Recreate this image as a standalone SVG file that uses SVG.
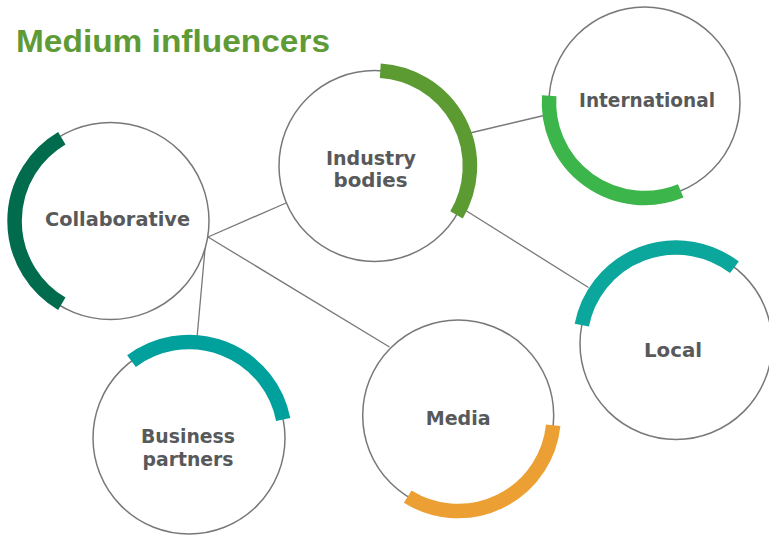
<svg xmlns="http://www.w3.org/2000/svg" width="769" height="535" viewBox="0 0 769 535">
<style>
.ring{fill:#ffffff;stroke:#77787b;stroke-width:1.5}
.arc{fill:none;stroke-width:14.5;stroke-linecap:butt}
.lbl{font-family:"DejaVu Sans",Verdana,sans-serif;font-weight:bold;font-size:19px;fill:#58595b;text-anchor:middle}
.title{font-family:"Liberation Sans",Arial,sans-serif;font-weight:bold;font-size:32px;fill:#5e9b37}
.con line{stroke:#77787b;stroke-width:1.3}
</style>
<rect width="769" height="535" fill="#ffffff"/>
<text class="title" x="16" y="52.3" textLength="314" lengthAdjust="spacingAndGlyphs">Medium influencers</text>
<g id="connectors" class="con">
<line x1="208" y1="237" x2="286" y2="203"/>
<line x1="208" y1="237" x2="389.5" y2="347"/>
<line x1="206" y1="238" x2="197" y2="338"/>
<line x1="470" y1="133" x2="546" y2="115"/>
<line x1="465" y1="210" x2="588.5" y2="287.5"/>
</g>
<g id="collaborative">
<circle class="ring" cx="110.5" cy="221" r="98.5"/>
<path class="arc" stroke="#006b4d" d="M 61.8 303.7 A 96 96 0 0 1 61.8 138.3"/>
<text class="lbl" x="117.5" y="226" textLength="145" lengthAdjust="spacingAndGlyphs">Collaborative</text>
</g>
<g id="industry-bodies">
<circle class="ring" cx="374.5" cy="166" r="95.5"/>
<path class="arc" stroke="#5c9a32" d="M 380.3 70.7 A 95.5 95.5 0 0 1 456.5 214.9"/>
<text class="lbl" x="371" y="165" textLength="90" lengthAdjust="spacingAndGlyphs">Industry</text>
<text class="lbl" x="370.5" y="187" textLength="74" lengthAdjust="spacingAndGlyphs">bodies</text>
</g>
<g id="international">
<circle class="ring" cx="644.5" cy="102.5" r="95.5"/>
<path class="arc" stroke="#3cb54a" d="M 680.7 190.9 A 95.5 95.5 0 0 1 549.2 95.8"/>
<text class="lbl" x="647" y="107.3" textLength="136" lengthAdjust="spacingAndGlyphs">International</text>
</g>
<g id="local">
<circle class="ring" cx="676" cy="343.5" r="96"/>
<path class="arc" stroke="#0ba79c" d="M 581.8 325.2 A 96 96 0 0 1 734.4 267.3"/>
<text class="lbl" x="673" y="357.3" textLength="58" lengthAdjust="spacingAndGlyphs">Local</text>
</g>
<g id="media">
<circle class="ring" cx="458.2" cy="415.5" r="95.5"/>
<path class="arc" stroke="#eca033" d="M 553.2 425.3 A 95.5 95.5 0 0 1 407.7 496.6"/>
<text class="lbl" x="458.2" y="425" textLength="65" lengthAdjust="spacingAndGlyphs">Media</text>
</g>
<g id="business-partners">
<circle class="ring" cx="189" cy="438" r="96"/>
<path class="arc" stroke="#00a09d" d="M 131.5 361.1 A 96 96 0 0 1 283.2 419.5"/>
<text class="lbl" x="188" y="442.7" textLength="94" lengthAdjust="spacingAndGlyphs">Business</text>
<text class="lbl" x="188" y="465.5" textLength="91" lengthAdjust="spacingAndGlyphs">partners</text>
</g>
</svg>
